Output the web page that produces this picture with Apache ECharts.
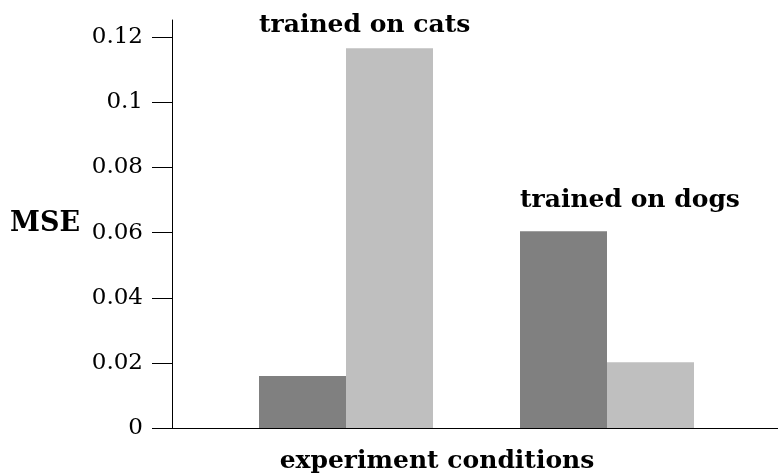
<!DOCTYPE html>
<html><head><meta charset="utf-8">
<script src="https://cdn.jsdelivr.net/npm/echarts@6/dist/echarts.min.js"></script>
<style>html,body{margin:0;padding:0;background:#fff}#c{width:778px;height:475px}</style>
</head><body><div id="c"></div>
<script>
const categories = ['trained on cats', 'trained on dogs'];
const darkValues = [0.0160, 0.0604];
const lightValues = [0.1166, 0.0202];
const annotationLabels = ['trained on cats', 'trained on dogs'];
const annotationY = [0.1235, 0.0700];
const yTicks = [0, 0.02, 0.04, 0.06, 0.08, 0.1, 0.12];
const yMax = 0.1253;

const FONT = 'DejaVu Serif';
const chart = echarts.init(document.getElementById('c'), null, {renderer: 'canvas'});
chart.setOption({
  animation: false,
  backgroundColor: '#fff',
  grid: [
    {left: 215.5, right: 40.5, top: 20, bottom: 47, outerBoundsMode: 'none', containLabel: false},
    {left: 172, right: 0, top: 20, bottom: 47, outerBoundsMode: 'none', containLabel: false}
  ],
  xAxis: [
    {type: 'category', gridIndex: 0, data: categories, show: false},
    {type: 'value', gridIndex: 1, min: 0, max: 1, axisLine: {show: true, onZero: false, lineStyle: {color: '#000', width: 1}},
     axisTick: {show: false}, axisLabel: {show: false}, splitLine: {show: false},
     name: 'experiment conditions', nameLocation: 'middle', nameGap: 21,
     nameTextStyle: {fontFamily: FONT, fontWeight: 'bold', fontSize: 25, color: '#000', padding: [0, 76, 0, 0]}}
  ],
  yAxis: [
    {type: 'value', gridIndex: 0, min: 0, max: yMax, show: false},
    {type: 'value', gridIndex: 1, min: 0, max: yMax,
     axisLine: {show: true, lineStyle: {color: '#000', width: 1}},
     axisTick: {show: true, inside: false, length: 20, lineStyle: {color: '#000', width: 1}, customValues: yTicks},
     axisLabel: {show: true, margin: 29, customValues: yTicks, fontFamily: FONT, fontSize: 23, color: '#000',
                 formatter: v => String(+v.toFixed(4))},
     splitLine: {show: false},
     name: 'MSE', nameLocation: 'middle', nameRotate: 0, nameGap: 92,
     nameTextStyle: {fontFamily: FONT, fontWeight: 'bold', fontSize: 27, color: '#000', align: 'right', verticalAlign: 'middle'}}
  ],
  series: [
    {type: 'bar', xAxisIndex: 0, yAxisIndex: 0, data: darkValues, barWidth: 87, barGap: '0%',
     itemStyle: {color: '#808080'}},
    {type: 'bar', xAxisIndex: 0, yAxisIndex: 0, data: lightValues, barWidth: 87, barGap: '0%',
     itemStyle: {color: '#bfbfbf'}},
    {type: 'scatter', xAxisIndex: 0, yAxisIndex: 0, symbolSize: 0, itemStyle: {color: 'rgba(0,0,0,0)', opacity: 1},
     silent: true,
     data: annotationY.map((y, i) => ({value: [i, y], name: annotationLabels[i]})),
     label: {show: true, position: 'inside', offset: [-87, 0], align: 'left', verticalAlign: 'middle',
             formatter: p => p.name, fontFamily: FONT, fontWeight: 'bold', fontSize: 25, color: '#000',
             textBorderWidth: 0}}
  ]
});
</script></body></html>
